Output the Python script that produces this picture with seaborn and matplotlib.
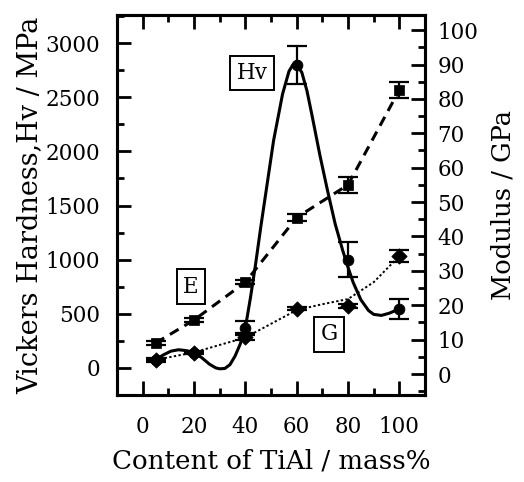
import numpy as np
import pandas as pd
import seaborn as sns
import matplotlib
matplotlib.use("Agg")
import matplotlib.pyplot as plt
from matplotlib.ticker import MultipleLocator

# measured points (TiAl content, mass%)
content = [5, 20, 40, 60, 80, 100]
hv = [74, 140, 370, 2795, 1000, 545]          # MPa, left axis
hv_err = [0, 0, 65, 175, 160, 95]
e_mod = [9.0, 15.7, 26.7, 45.5, 55.0, 82.6]    # GPa, right axis
e_err = [0.6, 0.6, 0.6, 1.0, 2.4, 2.4]
g_mod = [4.1, 6.2, 10.8, 19.0, 19.8, 34.3]     # GPa, right axis
g_err = [0.5, 0.5, 1.0, 0.5, 0.5, 1.8]

# fitted curves
hv_curve_x = [5, 8, 11, 14, 17, 20, 23, 26, 28.5, 30, 32, 34, 36, 38, 40,
              42, 44, 46, 48, 51, 54.5, 57, 58.5, 60, 62, 64, 66, 69, 72,
              75, 78, 80, 82, 85, 88, 90, 93, 96, 100]
hv_curve_y = [74, 120, 155, 168, 160, 140, 95, 35, 0, -8, -5, 30, 110, 220,
              370, 650, 960, 1300, 1620, 2100, 2530, 2740, 2800, 2800, 2730,
              2560, 2330, 1970, 1640, 1330, 1080, 930, 790, 630, 530, 495,
              485, 505, 545]
g_curve_x = [5, 20, 40, 60, 70, 80, 90, 100]
g_curve_y = [4.1, 6.3, 10.6, 18.6, 20.3, 21.8, 26.7, 34.3]

sns.set_theme(style="ticks")
plt.rcParams["font.family"] = ["DejaVu Serif"]
plt.rcParams.update({
    "axes.linewidth": 2.2,
    "axes.edgecolor": "black",
    "axes.labelcolor": "black",
    "text.color": "black",
    "xtick.color": "black",
    "ytick.color": "black",
})

fig = plt.figure(figsize=(5.24, 4.82), dpi=100)
ax = fig.add_axes([0.2233, 0.1805, 0.5878, 0.7884])
ax2 = ax.twinx()

pts = pd.DataFrame({"content": content, "hv": hv, "E": e_mod, "G": g_mod})
hv_line = pd.DataFrame({"x": hv_curve_x, "y": hv_curve_y})
g_line = pd.DataFrame({"x": g_curve_x, "y": g_curve_y})

# Hv on the left axis
sns.lineplot(data=hv_line, x="x", y="y", ax=ax, color="black", lw=2.2,
             sort=False, estimator=None)
sns.scatterplot(data=pts, x="content", y="hv", ax=ax, color="black",
                marker="o", s=60, edgecolor="black", zorder=4)
ax.errorbar(content, hv, yerr=hv_err, fmt="none", ecolor="black",
            elinewidth=1.6, capsize=7, capthick=1.6)

# moduli on the right axis
sns.lineplot(data=pts, x="content", y="E", ax=ax2, color="black", lw=2.2,
             linestyle=(0, (3.3, 2.2)), estimator=None)
sns.scatterplot(data=pts, x="content", y="E", ax=ax2, color="black",
                marker="s", s=42, edgecolor="black", zorder=4)
ax2.errorbar(content, e_mod, yerr=e_err, fmt="none", ecolor="black",
             elinewidth=1.6, capsize=7, capthick=1.6)

sns.lineplot(data=g_line, x="x", y="y", ax=ax2, color="black", lw=1.4,
             linestyle=(0, (1.2, 1.2)), estimator=None, sort=False)
sns.scatterplot(data=pts, x="content", y="G", ax=ax2, color="black",
                marker="D", s=60, edgecolor="black", zorder=4)
ax2.errorbar(content, g_mod, yerr=g_err, fmt="none", ecolor="black",
             elinewidth=1.6, capsize=7, capthick=1.6)

ax.set_xlim(-10, 110)
ax.set_ylim(-250, 3260)
ax2.set_ylim(-6.1, 104.4)

ax.xaxis.set_major_locator(MultipleLocator(20))
ax.xaxis.set_minor_locator(MultipleLocator(10))
ax.yaxis.set_major_locator(MultipleLocator(500))
ax.yaxis.set_minor_locator(MultipleLocator(250))
ax2.yaxis.set_major_locator(MultipleLocator(10))
ax2.yaxis.set_minor_locator(MultipleLocator(5))

ax.tick_params(axis="x", which="both", direction="in", top=True, bottom=True,
               width=2.0, labelsize=15.5, pad=15)
ax.tick_params(axis="x", which="major", length=10)
ax.tick_params(axis="x", which="minor", length=5)
ax.tick_params(axis="y", which="both", direction="in", left=True, right=False,
               width=2.0, labelsize=15.5, pad=12)
ax.tick_params(axis="y", which="major", length=10)
ax.tick_params(axis="y", which="minor", length=5)
ax2.tick_params(axis="y", which="both", direction="in", width=2.0,
                labelsize=15.5, pad=9)
ax2.tick_params(axis="y", which="major", length=10)
ax2.tick_params(axis="y", which="minor", length=5)

ax.set_xlabel("Content of TiAl / mass%", fontsize=18.8, labelpad=8)
ax.set_ylabel("Vickers Hardness,Hv / MPa", fontsize=19.5, labelpad=2)
ax2.set_ylabel("Modulus / GPa", fontsize=18.5, labelpad=9)

box = dict(boxstyle="square,pad=0.3", facecolor="white", edgecolor="black", lw=1.4)
ax.text(42.6, 2724, "Hv", fontsize=15.5, ha="center", va="center", bbox=box)
ax.text(18.8, 748, "E", fontsize=15.5, ha="center", va="center", bbox=box)
ax.text(72.6, 313, "G", fontsize=15.5, ha="center", va="center", bbox=box)

fig.savefig("out.png", dpi=100)
